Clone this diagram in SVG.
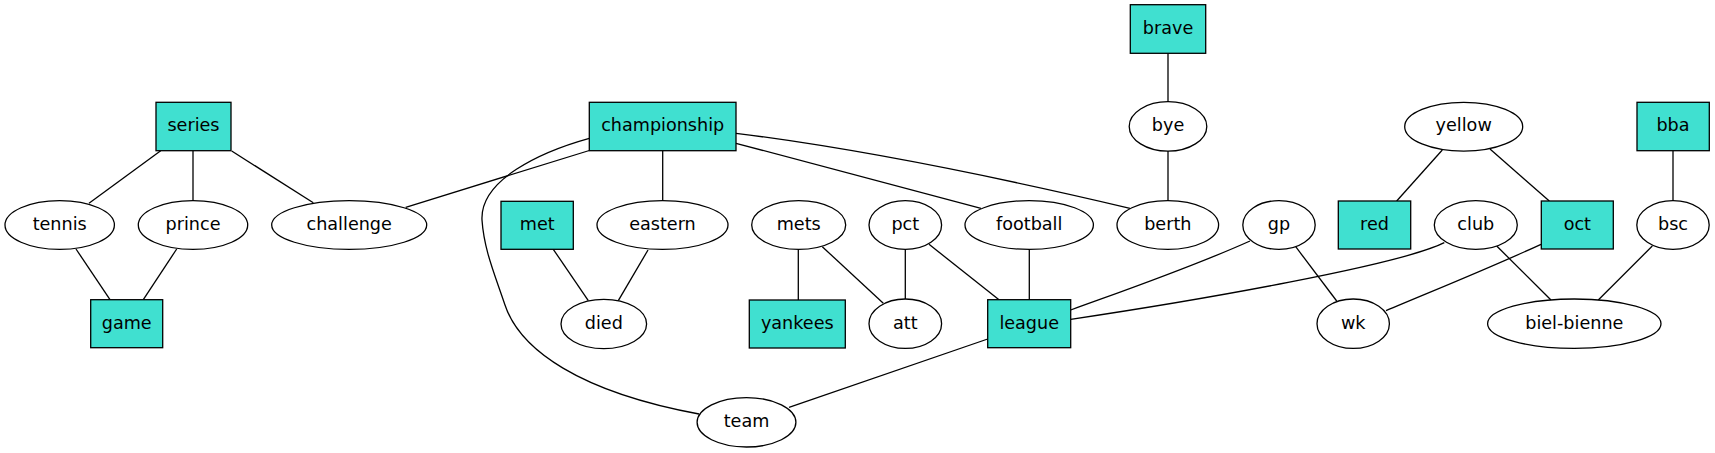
<svg xmlns="http://www.w3.org/2000/svg" width="1715" height="453" viewBox="0 0 1715 453">
<style>
.n ellipse{fill:#fff;stroke:#000;stroke-width:1.3}
.n rect{fill:#40e0d0;stroke:#000;stroke-width:1.3}
.n text{font-family:"DejaVu Sans",Verdana,sans-serif;font-size:17.6px;text-anchor:middle;fill:#000}
#edges path{fill:none;stroke:#000;stroke-width:1.3}
</style>
<rect width="1715" height="453" fill="#fff"/>
<g id="edges">
<path d="M160.7,150.7L89,203.3"/>
<path d="M193,150.7L193,200.7"/>
<path d="M231.7,151L313.3,202.7"/>
<path d="M405.7,207.3L589.3,150.5"/>
<path d="M76,249L110,299.7"/>
<path d="M176.7,249L143.3,299.7"/>
<path d="M662.7,150.7L662.7,200.7"/>
<path d="M589.3,138.3C540,152 480,180 482,220C484,250 495,275 505,305C520,350 580,392 699,414"/>
<path d="M736,143.3L981,208.3"/>
<path d="M736,133.3C870,150 1010,180 1130,208.3"/>
<path d="M553.3,249.3L588.3,300.7"/>
<path d="M648,250L618.3,300.7"/>
<path d="M798.3,249.3L798.3,300"/>
<path d="M822.3,246.7L883.3,303.3"/>
<path d="M905.3,249.3L905.3,299"/>
<path d="M929,244.3L999,299.7"/>
<path d="M1029.3,249.3L1029.3,299.7"/>
<path d="M1250,241C1190,268 1120,292 1070.7,310"/>
<path d="M1444.3,242.7C1400,265 1200,300 1070.7,319.3"/>
<path d="M789,407.3L987.7,339"/>
<path d="M1168,53.3L1168,101.7"/>
<path d="M1168,151L1168,200.3"/>
<path d="M1295.7,246.7L1336.7,301"/>
<path d="M1541,244.3C1490,268 1430,292 1386,310.7"/>
<path d="M1496.7,246L1551,300"/>
<path d="M1652.3,246L1598.3,300"/>
<path d="M1442.3,150L1396.7,201"/>
<path d="M1490,149L1549.3,201"/>
<path d="M1673,150.7L1673,200.7"/>
</g>
<g id="series" class="n"><rect x="156" y="102.3" width="75" height="48.4"/><text x="193.5" y="131">series</text></g>
<g id="championship" class="n"><rect x="589.3" y="102.3" width="146.7" height="48.4"/><text x="662.7" y="131">championship</text></g>
<g id="brave" class="n"><rect x="1130.3" y="4.7" width="75.4" height="48.6"/><text x="1168" y="33.8">brave</text></g>
<g id="bba" class="n"><rect x="1637" y="102.3" width="72.3" height="48.4"/><text x="1673" y="131">bba</text></g>
<g id="bye" class="n"><ellipse cx="1168" cy="126.4" rx="38.8" ry="24.7"/><text x="1168" y="131.2">bye</text></g>
<g id="yellow" class="n"><ellipse cx="1463.7" cy="126.7" rx="59" ry="24.4"/><text x="1463.7" y="131.4">yellow</text></g>
<g id="tennis" class="n"><ellipse cx="59.7" cy="225" rx="54.7" ry="24.4"/><text x="59.7" y="229.8">tennis</text></g>
<g id="prince" class="n"><ellipse cx="193" cy="225" rx="54.7" ry="24.4"/><text x="193" y="229.8">prince</text></g>
<g id="challenge" class="n"><ellipse cx="349.2" cy="225" rx="77.5" ry="24.4"/><text x="349.2" y="229.8">challenge</text></g>
<g id="met" class="n"><rect x="501" y="201.3" width="72.3" height="48"/><text x="537.2" y="229.8">met</text></g>
<g id="eastern" class="n"><ellipse cx="662.5" cy="225" rx="65.5" ry="24.4"/><text x="662.5" y="229.8">eastern</text></g>
<g id="mets" class="n"><ellipse cx="798.7" cy="225" rx="47" ry="24.4"/><text x="798.7" y="229.8">mets</text></g>
<g id="pct" class="n"><ellipse cx="905.3" cy="225" rx="36.3" ry="24.4"/><text x="905.3" y="229.8">pct</text></g>
<g id="football" class="n"><ellipse cx="1029.2" cy="225" rx="64.2" ry="24.4"/><text x="1029.2" y="229.8">football</text></g>
<g id="berth" class="n"><ellipse cx="1167.8" cy="225" rx="50.8" ry="24.4"/><text x="1167.8" y="229.8">berth</text></g>
<g id="gp" class="n"><ellipse cx="1279" cy="225" rx="36.2" ry="24.4"/><text x="1279" y="229.8">gp</text></g>
<g id="red" class="n"><rect x="1338.3" y="201" width="72.4" height="48"/><text x="1374.5" y="229.8">red</text></g>
<g id="club" class="n"><ellipse cx="1475.8" cy="225" rx="41.5" ry="24.4"/><text x="1475.8" y="229.8">club</text></g>
<g id="oct" class="n"><rect x="1541.3" y="201" width="72" height="48"/><text x="1577.3" y="229.8">oct</text></g>
<g id="bsc" class="n"><ellipse cx="1673" cy="225" rx="36.2" ry="24.4"/><text x="1673" y="229.8">bsc</text></g>
<g id="game" class="n"><rect x="90.7" y="299.7" width="72" height="48"/><text x="126.7" y="328.5">game</text></g>
<g id="died" class="n"><ellipse cx="603.8" cy="324" rx="42.8" ry="24.7"/><text x="603.8" y="328.8">died</text></g>
<g id="yankees" class="n"><rect x="749.3" y="300" width="96" height="48"/><text x="797.3" y="328.8">yankees</text></g>
<g id="att" class="n"><ellipse cx="905.3" cy="323.7" rx="36.3" ry="24.7"/><text x="905.3" y="328.5">att</text></g>
<g id="league" class="n"><rect x="987.7" y="299.7" width="83" height="48"/><text x="1029.2" y="328.5">league</text></g>
<g id="wk" class="n"><ellipse cx="1353.2" cy="323.7" rx="36.2" ry="24.7"/><text x="1353.2" y="328.5">wk</text></g>
<g id="biel-bienne" class="n"><ellipse cx="1574.3" cy="323.7" rx="86.7" ry="24.7"/><text x="1574.3" y="328.5">biel-bienne</text></g>
<g id="team" class="n"><ellipse cx="746.5" cy="422.3" rx="49.4" ry="24.7"/><text x="746.5" y="427.1">team</text></g>
</svg>
